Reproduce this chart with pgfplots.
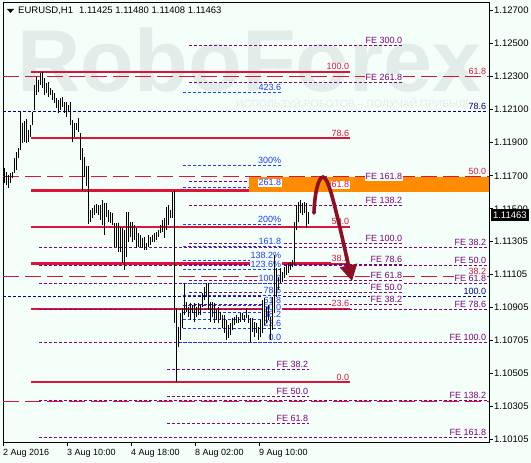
\documentclass[border=0pt]{standalone}
\usepackage{pgfplots}
\pgfplotsset{compat=1.18}
\usepackage{pgfplotstable}
\usepackage{fontspec}
\setmainfont{Liberation Sans}
\usetikzlibrary{arrows.meta}

\definecolor{bgmint}{RGB}{245,255,250}
\definecolor{fibred}{RGB}{220,20,60}
\definecolor{fibpurple}{RGB}{128,0,128}
\definecolor{fibnavy}{RGB}{0,0,128}
\definecolor{fibblue}{RGB}{30,60,255}
\definecolor{zone}{RGB}{255,140,0}
\definecolor{arrowred}{RGB}{140,15,35}
\definecolor{wmark}{RGB}{226,237,234}

\newcommand\tickfont{\fontsize{9.5}{11}\selectfont}
\newcommand\labfont{\fontsize{9}{10}\selectfont}

\tikzset{
  redsolid/.style={fibred, line width=2.2pt},
  reddash/.style={fibred, line width=1pt, dash pattern=on 16pt off 6pt},
  purpdot/.style={fibpurple, line width=1pt, dash pattern=on 3pt off 2pt},
  navydot/.style={fibnavy, line width=1pt, dash pattern=on 3pt off 2pt},
  bluedot/.style={fibblue, line width=1pt, dash pattern=on 3pt off 2pt},
  lab/.style={anchor=base east, inner xsep=0.6pt, inner ysep=1pt, fill=bgmint, font=\labfont, yshift=2pt},
}

% horizontal level: style, x from, x to, price
\newcommand\lv[4]{\addplot[#1] coordinates {(#2,#4) (#3,#4)};}
% level caption: colour, x end, price, text
\newcommand\lb[4]{\node[lab, text=#1] at (axis cs:#2,#3) {#4};}

% EURUSD H1 bars: x position, low, high
\pgfplotstableread{
x lo hi
4 1.11656 1.11747
6 1.11644 1.11723
8 1.11626 1.11704
10 1.11656 1.11717
12 1.11686 1.11723
14 1.11717 1.11808
16 1.11735 1.11844
18 1.11808 1.11868
20 1.11856 1.12086
22 1.11898 1.12020
24 1.11904 1.12032
26 1.11898 1.12044
28 1.11904 1.11977
30 1.11935 1.12007
32 1.12007 1.12086
34 1.12098 1.12250
36 1.12189 1.12298
38 1.12207 1.12280
40 1.12250 1.12323
42 1.12232 1.12329
44 1.12189 1.12292
46 1.12201 1.12262
48 1.12177 1.12268
50 1.12189 1.12232
52 1.12159 1.12220
54 1.12141 1.12201
56 1.12111 1.12171
58 1.12080 1.12159
60 1.12098 1.12171
62 1.12117 1.12177
64 1.12080 1.12147
66 1.12056 1.12147
68 1.12086 1.12129
70 1.12007 1.12147
72 1.11904 1.12038
74 1.11935 1.12020
76 1.11977 1.12020
78 1.11965 1.12050
80 1.11795 1.11959
82 1.11608 1.11868
84 1.11692 1.11814
86 1.11638 1.11759
88 1.11408 1.11759
90 1.11420 1.11492
92 1.11444 1.11505
94 1.11462 1.11523
96 1.11474 1.11529
98 1.11462 1.11523
100 1.11432 1.11523
102 1.11401 1.11553
104 1.11341 1.11535
106 1.11450 1.11535
108 1.11420 1.11492
110 1.11414 1.11480
112 1.11401 1.11474
114 1.11268 1.11414
116 1.11268 1.11414
118 1.11238 1.11414
120 1.11238 1.11389
122 1.11171 1.11383
124 1.11129 1.11371
126 1.11208 1.11480
128 1.11298 1.11480
130 1.11329 1.11420
132 1.11298 1.11420
134 1.11311 1.11401
136 1.11262 1.11383
138 1.11268 1.11353
140 1.11268 1.11341
142 1.11262 1.11323
144 1.11250 1.11329
146 1.11250 1.11292
148 1.11268 1.11341
150 1.11280 1.11329
152 1.11298 1.11341
154 1.11298 1.11353
156 1.11311 1.11359
158 1.11329 1.11371
160 1.11353 1.11401
162 1.11359 1.11432
164 1.11323 1.11444
166 1.11371 1.11511
168 1.11401 1.11523
170 1.11444 1.11492
172 1.11444 1.11601
174 1.10808 1.11608
176 1.10450 1.10899
178 1.10662 1.10783
180 1.10705 1.10868
182 1.10777 1.10899
184 1.10856 1.11050
186 1.10874 1.10935
188 1.10844 1.10905
190 1.10826 1.10929
192 1.10868 1.10917
194 1.10814 1.10929
196 1.10844 1.10905
198 1.10856 1.10929
200 1.10856 1.10917
202 1.10905 1.10989
204 1.10947 1.11026
206 1.10965 1.11050
208 1.10886 1.11050
210 1.10814 1.10935
212 1.10844 1.10935
214 1.10808 1.10929
216 1.10826 1.10886
218 1.10808 1.10905
220 1.10826 1.10874
222 1.10777 1.10856
224 1.10747 1.10856
226 1.10705 1.10826
228 1.10717 1.10795
230 1.10735 1.10808
232 1.10765 1.10838
234 1.10795 1.10844
236 1.10808 1.10856
238 1.10808 1.10844
240 1.10814 1.10868
242 1.10826 1.10868
244 1.10814 1.10856
246 1.10838 1.10899
248 1.10808 1.10856
250 1.10692 1.10838
252 1.10753 1.10838
254 1.10723 1.10814
256 1.10747 1.10808
258 1.10705 1.10783
260 1.10723 1.10826
262 1.10747 1.10947
264 1.10795 1.10959
266 1.10808 1.10905
268 1.10826 1.10917
270 1.10705 1.10844
272 1.10765 1.10965
274 1.10868 1.11220
276 1.10965 1.11141
278 1.11008 1.11086
280 1.11050 1.11141
282 1.11056 1.11117
284 1.11080 1.11147
286 1.11098 1.11159
288 1.11111 1.11171
290 1.11129 1.11177
292 1.11147 1.11189
294 1.11159 1.11420
296 1.11371 1.11523
298 1.11420 1.11541
300 1.11474 1.11553
302 1.11462 1.11535
304 1.11474 1.11541
306 1.11383 1.11535
308 1.11408 1.11480
}\bars

\begin{document}
\begin{tikzpicture}
\useasboundingbox (0pt,0pt) rectangle (531pt,463pt);
\fill[bgmint] (0pt,0pt) rectangle (531pt,463pt);
% broker watermark
\node[anchor=base west, inner sep=0pt, text=wmark, font=\fontsize{88}{88}\selectfont\bfseries] at (17pt,371pt) {RoboForex};
\node[anchor=base west, inner sep=0pt, text=wmark, font=\fontsize{10.5}{12}\selectfont] at (236pt,355pt) {ИСПОЛЬЗУЙ РОБОТОВ – ПОЛУЧАЙ ПРИБЫЛЬ};

\begin{axis}[
  at={(3pt,21pt)}, anchor=south west,
  scale only axis, width=486pt, height=440pt,
  xmin=3, xmax=489, ymin=1.100868, ymax=1.127527,
  clip=false,
  axis line style={black, line width=0.8pt},
  tick style={black, line width=0.8pt},
  tick align=outside, major tick length=4pt,
  xtick pos=bottom, ytick pos=right, yticklabel pos=right,
  xtick={3,67,131,195,259},
  xticklabels={2 Aug 2016, 3 Aug 10:00, 4 Aug 18:00, 8 Aug 02:00, 9 Aug 10:00},
  ytick={1.127,1.125,1.123,1.121,1.119,1.117,1.115,1.11305,1.11105,1.10905,1.10705,1.10505,1.10305,1.10105},
  yticklabels={1.12700,1.12500,1.12300,1.12100,1.11900,1.11700,1.11500,1.11305,1.11105,1.10905,1.10705,1.10505,1.10305,1.10105},
  xticklabel style={anchor=north west, inner sep=0pt, font=\labfont, yshift=-3.5pt},
  yticklabel style={anchor=west, inner sep=0pt, font=\tickfont, xshift=1pt},
]
% retracement 100 -> 0 (red, solid)
\lv{redsolid}{31}{350}{1.12329}
\lv{redsolid}{31}{350}{1.11927}
\lv{redsolid}{31}{350}{1.11611}
\lv{redsolid}{31}{350}{1.113895}
\lv{redsolid}{31}{350}{1.11168}
\lv{redsolid}{31}{350}{1.10893}
\lv{redsolid}{31}{350}{1.10450}
% larger retracement (red, dashed)
\lv{reddash}{3}{489}{1.12303}
\lv{reddash}{3}{489}{1.11695}
\lv{reddash}{3}{489}{1.11087}
\lv{reddash}{3}{489}{1.10330}
% navy levels
\lv{navydot}{3}{487}{1.12092}
\lv{navydot}{3}{487}{1.10971}
% expansion B
\lv{purpdot}{39}{487}{1.11268}
\lv{purpdot}{39}{487}{1.11158}
\lv{purpdot}{39}{487}{1.11048}
\lv{purpdot}{39}{487}{1.10891}
\lv{purpdot}{39}{487}{1.10692}
\lv{purpdot}{39}{487}{1.10336}
\lv{purpdot}{39}{487}{1.10116}
% expansion A
\lv{purpdot}{189}{403}{1.10921}
\lv{purpdot}{189}{403}{1.10992}
\lv{purpdot}{189}{403}{1.11063}
\lv{purpdot}{189}{403}{1.11164}
\lv{purpdot}{189}{403}{1.11292}
\lv{purpdot}{189}{403}{1.11521}
\lv{purpdot}{189}{403}{1.11663}
\lv{purpdot}{189}{403}{1.12263}
\lv{purpdot}{189}{403}{1.12492}
% expansion D
\lv{purpdot}{167}{309}{1.10524}
\lv{purpdot}{167}{309}{1.10360}
\lv{purpdot}{167}{309}{1.10196}
% expansion C (blue)
\lv{bluedot}{183}{282}{1.10692}
\lv{bluedot}{183}{282}{1.10776}
\lv{bluedot}{183}{282}{1.10828}
\lv{bluedot}{183}{282}{1.10871}
\lv{bluedot}{183}{282}{1.10913}
\lv{bluedot}{183}{282}{1.10973}
\lv{bluedot}{183}{282}{1.11049}
\lv{bluedot}{183}{282}{1.11133}
\lv{bluedot}{183}{282}{1.11185}
\lv{bluedot}{183}{282}{1.11270}
\lv{bluedot}{183}{282}{1.11406}
\lv{bluedot}{183}{282}{1.11627}
\lv{bluedot}{183}{282}{1.11763}
\lv{bluedot}{183}{282}{1.12204}
% target zone between 61.8 and 50.0
\fill[zone] (axis cs:249,1.11603) rectangle (axis cs:489,1.11692);

% captions
\lb{fibblue}{282}{1.12204}{423.6}
\lb{fibblue}{282}{1.11763}{300\%}
\node[lab, text=fibblue, fill=white] at (axis cs:282,1.11627) {261.8};
\lb{fibblue}{282}{1.11406}{200\%}
\lb{fibblue}{282}{1.11270}{161.8}
\lb{fibblue}{282}{1.11185}{138.2\%}
\lb{fibblue}{282}{1.11133}{123.6\%}
\lb{fibblue}{282}{1.11049}{100.0}
\lb{fibblue}{282}{1.10973}{78.6}
\lb{fibblue}{282}{1.10913}{61.8}
\lb{fibblue}{282}{1.10871}{50.0}
\lb{fibblue}{282}{1.10828}{38.2}
\lb{fibblue}{282}{1.10776}{23.6}
\lb{fibblue}{282}{1.10692}{0.0}

\lb{fibred}{350}{1.12329}{100.0}
\lb{fibred}{350}{1.11927}{78.6}
\node[lab, text=fibred, fill=white, yshift=0.5pt] at (axis cs:350,1.11611) {61.8};
\lb{fibred}{350}{1.113895}{50.0}
\lb{fibred}{350}{1.11168}{38.2}
\lb{fibred}{350}{1.10893}{23.6}
\lb{fibred}{350}{1.10450}{0.0}

\lb{fibred}{487}{1.12303}{61.8}
\lb{fibred}{487}{1.11695}{50.0}
\lb{fibred}{487}{1.11087}{38.2}
\lb{fibnavy}{487}{1.12092}{78.6}
\lb{fibnavy}{487}{1.10971}{100.0}

\lb{fibpurple}{403}{1.12492}{FE 300.0}
\lb{fibpurple}{403}{1.12263}{FE 261.8}
\lb{fibpurple}{403}{1.11663}{FE 161.8}
\lb{fibpurple}{403}{1.11521}{FE 138.2}
\lb{fibpurple}{403}{1.11292}{FE 100.0}
\lb{fibpurple}{403}{1.11164}{FE 78.6}
\lb{fibpurple}{403}{1.11063}{FE 61.8}
\lb{fibpurple}{403}{1.10992}{FE 50.0}
\lb{fibpurple}{403}{1.10921}{FE 38.2}

\lb{fibpurple}{487}{1.11268}{FE 38.2}
\lb{fibpurple}{487}{1.11158}{FE 50.0}
\lb{fibpurple}{487}{1.11048}{FE 61.8}
\lb{fibpurple}{487}{1.10891}{FE 78.6}
\lb{fibpurple}{487}{1.10692}{FE 100.0}
\lb{fibpurple}{487}{1.10336}{FE 138.2}
\lb{fibpurple}{487}{1.10116}{FE 161.8}

\lb{fibpurple}{309}{1.10524}{FE 38.2}
\lb{fibpurple}{309}{1.10360}{FE 50.0}
\lb{fibpurple}{309}{1.10196}{FE 61.8}

% price bars (high-low)
\addplot[draw=none, mark=none,
  error bars/.cd, y dir=plus, y explicit, error mark=none,
  error bar style={draw=black, solid, line width=1pt}]
  table[x=x, y=lo, y error expr=\thisrow{hi}-\thisrow{lo}] {\bars};

% expected move
\draw[arrowred, line width=3.6pt, line cap=round, -{Triangle[length=16pt, width=17pt]}]
  (axis cs:314,1.11474) .. controls (axis cs:314.5,1.11583) and (axis cs:318,1.11692)
  .. (axis cs:323,1.11692) .. controls (axis cs:328,1.11689) and (axis cs:333,1.11577)
  .. (axis cs:352,1.11062);

\coordinate (lastp) at (axis cs:489,1.11463);
\end{axis}

% symbol header
\fill[black] (7pt,454pt) -- (14pt,454pt) -- (10.5pt,450pt) -- cycle;
\node[anchor=base west, inner sep=0pt, font=\tickfont] at (18pt,449pt)
  {EURUSD,H1\hspace{6pt}1.11425 1.11480 1.11408 1.11463};
% last price marker
\node[fill=black, text=white, anchor=west, inner xsep=2.3pt, inner ysep=2.6pt, font=\tickfont]
  at ([xshift=1.5pt]lastp) {1.11463};
\end{tikzpicture}
\end{document}
